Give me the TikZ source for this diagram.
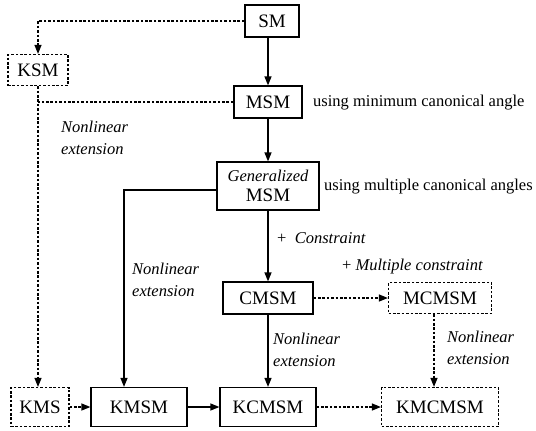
\documentclass[tikz,border=0pt]{standalone}
\usepackage{fontspec}
\setmainfont{Liberation Serif}
\usetikzlibrary{arrows.meta}
\begin{document}
\begin{tikzpicture}[x=1pt,y=-1pt,
  box/.style={draw,line width=1.2pt,inner sep=0pt,font=\fontsize{19}{21}\selectfont},
  dbox/.style={box,dash pattern=on 2.6pt off 1.8pt},
  arr/.style={line width=1.2pt,-{Triangle[length=9pt,width=7pt]}},
  darr/.style={arr,dash pattern=on 2.6pt off 1.8pt},
  dline/.style={line width=1.2pt,dash pattern=on 2.6pt off 1.8pt},
  ann/.style={font=\fontsize{16.5}{22}\selectfont,inner sep=0pt,anchor=west},
  iann/.style={inner sep=0pt,anchor=west,font=\fontsize{16.5}{22}\selectfont\itshape,align=left}]
\useasboundingbox (0,0) rectangle (536,431);
\node[box,minimum width=54pt,minimum height=32pt] (SM) at (272,21) {SM};
\node[dbox,minimum width=60pt,minimum height=31pt] (KSM) at (38,70) {KSM};
\node[box,minimum width=68pt,minimum height=32pt] (MSM) at (268,102) {MSM};
\node[box,minimum width=102pt,minimum height=48pt,align=center] (GM) at (268,186)
  {{\fontsize{16.5}{18}\selectfont\itshape Generalized}\\[-1pt]MSM};
\node[box,minimum width=90pt,minimum height=32pt] (CMSM) at (268,298) {CMSM};
\node[dbox,minimum width=103pt,minimum height=31pt] (MCMSM) at (440,298) {MCMSM};
\node[dbox,minimum width=58pt,minimum height=39pt] (KMS) at (40,407) {KMS};
\node[box,minimum width=96pt,minimum height=39pt] (KMSM) at (139,407) {KMSM};
\node[box,minimum width=96pt,minimum height=39pt] (KCMSM) at (268,407) {KCMSM};
\node[dbox,minimum width=117pt,minimum height=39pt] (KMCMSM) at (440,407) {KMCMSM};

\node[ann] (t1) at (313,103) {using minimum canonical angle};
\node[ann] (t2) at (324,187) {using multiple canonical angles};
\node[iann] (t3) at (61,138) {Nonlinear\\extension};
\node[ann] (t4) at (277,238) {+\ \ \textit{Constraint}};
\node[ann] (t5) at (342,267) {+ \textit{Multiple constraint}};
\node[iann] (t6) at (132,280) {Nonlinear\\extension};
\node[iann] (t7) at (273,350) {Nonlinear\\extension};
\node[iann] (t8) at (447,348) {Nonlinear\\extension};

\coordinate (kx) at (124,0);
\coordinate (mx) at (434,0);
\draw[darr] (SM.west) -| (KSM.north);
\draw[arr] (SM.south -| MSM.north) -- (MSM.north);
\draw[dline] (MSM.west) -- (MSM.west -| KSM.south);
\draw[darr] (KSM.south) -- (KSM.south |- KMS.north);
\draw[arr] (MSM) -- (GM);
\draw[arr] ([yshift=-4pt]GM.west) -| (kx |- KMSM.north);
\draw[arr] (GM) -- (CMSM);
\draw[darr] (CMSM) -- (MCMSM);
\draw[arr] (CMSM) -- (KCMSM);
\draw[darr] (mx |- MCMSM.south) -- (mx |- KMCMSM.north);
\draw[darr] (KMS) -- (KMSM);
\draw[arr] (KMSM) -- (KCMSM);
\draw[darr] (KCMSM) -- (KMCMSM);
\end{tikzpicture}
\end{document}
